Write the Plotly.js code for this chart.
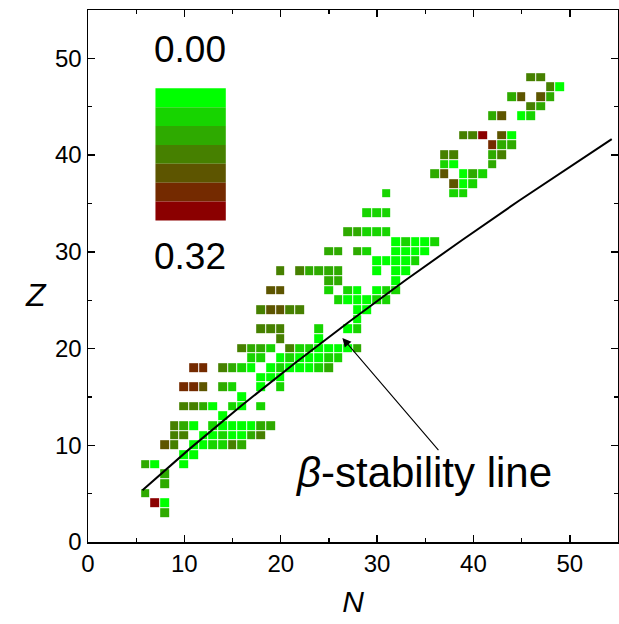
<!DOCTYPE html>
<html><head><meta charset="utf-8">
<script src="https://cdn.plot.ly/plotly-3.0.1.min.js"></script>
<style>html,body{margin:0;padding:0;background:#fff}</style>
</head><body><div id="chart" style="width:619px;height:624px"></div>
<script>
// colour bins from 0.00 (bright green) to 0.32 (dark red)
const binColors = ['#00FF00','#17D400','#2EAA00','#468000','#5D5500','#742A00','#8B0000'];
const legendLabels = ['0.00','0.32'];
const tickVals = [0,10,20,30,40,50];

// nuclides: neutron number N, proton number Z, colour bin (0..6)
const cellN = [
 8,
 7,8,
 6,
 8,
 8,
 6,7,10,
 10,11,
 8,9,11,12,13,14,15,16,
 9,10,12,13,14,15,16,17,18,
 9,10,11,13,14,15,16,17,18,19,
 14,
 10,11,12,13,15,16,18,
 16,
 10,11,12,14,15,18,20,
 18,19,20,
 11,12,14,15,16,17,19,20,21,22,23,24,25,
 17,18,20,21,22,23,24,25,26,
 16,17,18,19,21,22,23,24,25,26,27,28,
 20,24,
 18,19,20,24,27,28,
 28,
 18,19,20,21,22,28,29,
 26,27,28,29,30,31,
 19,20,25,27,28,30,31,32,
 25,26,32,
 20,22,23,24,25,26,30,32,33,
 30,31,32,33,34,
 25,26,28,29,32,33,34,35,
 32,33,34,35,36,
 27,28,29,30,31,
 29,30,31,
 31,38,39,
 38,39,40,
 36,37,39,40,41,
 37,38,42,
 37,38,42,43,
 42,43,44,
 39,40,41,43,44,
 42,43,45,46,
 46,47,
 44,45,47,48,
 48,49,
 46,47
];
const cellZ = [
 3,
 4,4,
 5,
 6,
 7,
 8,8,8,
 9,9,
 10,10,10,10,10,10,10,10,
 11,11,11,11,11,11,11,11,11,
 12,12,12,12,12,12,12,12,12,12,
 13,
 14,14,14,14,14,14,14,
 15,
 16,16,16,16,16,16,16,
 17,17,17,
 18,18,18,18,18,18,18,18,18,18,18,18,18,
 19,19,19,19,19,19,19,19,19,
 20,20,20,20,20,20,20,20,20,20,20,20,
 21,21,
 22,22,22,22,22,22,
 23,
 24,24,24,24,24,24,24,
 25,25,25,25,25,25,
 26,26,26,26,26,26,26,26,
 27,27,27,
 28,28,28,28,28,28,28,28,28,
 29,29,29,29,29,
 30,30,30,30,30,30,30,30,
 31,31,31,31,31,
 32,32,32,32,32,
 34,34,34,
 36,36,36,
 37,37,37,
 38,38,38,38,38,
 39,39,39,
 40,40,40,40,
 41,41,41,
 42,42,42,42,42,
 44,44,44,44,
 45,45,
 46,46,46,46,
 47,47,
 48,48
];
const cellBin = [
 2,
 6,0,
 2,
 2,
 2,
 2,0,0,
 0,0,
 4,3,0,0,1,1,3,2,
 3,3,0,0,1,0,0,2,3,
 3,2,0,1,0,0,0,0,2,2,
 0,
 3,3,2,0,1,0,1,
 0,
 5,5,4,2,1,0,1,
 0,0,0,
 5,5,3,2,1,0,0,1,0,0,0,1,2,
 1,1,0,1,0,0,0,1,1,
 3,2,2,1,3,1,1,0,0,0,0,2,
 3,0,
 3,3,3,1,0,1,
 0,
 3,4,4,3,3,0,0,
 1,0,0,0,1,1,
 4,4,1,1,0,0,1,1,
 2,2,0,
 3,3,2,2,2,2,0,0,0,
 0,0,0,0,1,
 2,2,2,1,0,0,0,0,
 0,1,0,0,1,
 2,2,1,1,1,
 1,1,1,
 1,1,1,
 4,0,1,
 2,4,0,2,1,
 1,0,2,
 3,3,2,3,
 5,2,2,
 3,3,6,4,0,
 2,4,0,1,
 3,2,
 2,4,4,2,
 3,0,
 3,3
];

// beta-stability line, points
const lineN = [5.65, 10.45, 15.91, 21.49, 27.17, 32.94, 38.80, 44.72, 54.35];
const lineZ = [5.35, 9.55, 14.09, 18.51, 22.83, 27.06, 31.20, 35.28, 41.65];

// build heatmap grid
const nMin = 0, nMax = 55, zMin = 0, zMax = 55;
const gx = [], gy = [];
for (let n = nMin; n <= nMax; n++) gx.push(n);
for (let z = zMin; z <= zMax; z++) gy.push(z);
const grid = gy.map(() => gx.map(() => null));
for (let i = 0; i < cellN.length; i++) {
  grid[cellZ[i] - zMin][cellN[i] - nMin] = cellBin[i];
}
const k = binColors.length;
const cs = [];
binColors.forEach((c, i) => { cs.push([i / k, c]); cs.push([(i + 1) / k, c]); });

const FONT = 'Arial, "Liberation Sans", sans-serif';

const traces = [
  {type: 'heatmap', x: gx, y: gy, z: grid, colorscale: cs, zmin: -0.5, zmax: k - 0.5,
   showscale: false, xgap: 1, ygap: 1, hoverongaps: false},
  {type: 'scatter', mode: 'lines', x: lineN, y: lineZ, line: {color: '#000', width: 2}, showlegend: false}
];

// legend colour blocks
const shapes = [];
const lgX0 = 7.0, lgX1 = 14.3, lgTop = 46.9, lgH = 1.95;
binColors.forEach((c, i) => {
  shapes.push({type: 'rect', xref: 'x', yref: 'y', x0: lgX0, x1: lgX1,
    y0: lgTop - (i + 1) * lgH, y1: lgTop - i * lgH, fillcolor: c, line: {width: 0}, layer: 'above'});
});

const annotations = [
  {xref: 'x', yref: 'y', x: 10.6, y: 50.9, text: legendLabels[0], showarrow: false,
   font: {family: FONT, size: 37, color: '#000'}},
  {xref: 'x', yref: 'y', x: 10.6, y: 29.5, text: legendLabels[1], showarrow: false,
   font: {family: FONT, size: 37, color: '#000'}},
  {xref: 'x', yref: 'y', x: 26.4, y: 21.1, axref: 'x', ayref: 'y', ax: 36.5, ay: 9.35,
   text: '', showarrow: true, arrowhead: 2, arrowsize: 1.6, arrowwidth: 1.1, arrowcolor: '#000'},
  {xref: 'x', yref: 'y', x: 34.8, y: 7.2, text: '<i>β</i>-stability line', showarrow: false,
   font: {family: FONT, size: 42, color: '#000'}},
  {xref: 'paper', yref: 'paper', x: -0.098, y: 0.464, xanchor: 'center', yanchor: 'middle',
   text: '<i>Z</i>', showarrow: false, font: {family: FONT, size: 32, color: '#000'}}
];

const axisCommon = {
  range: [0, 55], showline: true, linecolor: '#000', linewidth: 1.5, mirror: 'ticks',
  ticks: 'inside', ticklen: 7, tickwidth: 1.5, tickcolor: '#000',
  tickvals: tickVals, showgrid: false, zeroline: false,
  minor: {dtick: 5, ticks: 'inside', ticklen: 4, tickwidth: 1.2, tickcolor: '#000', showgrid: false},
  tickfont: {family: FONT, size: 24, color: '#000'}
};

const layout = {
  width: 619, height: 624,
  margin: {l: 88, r: 1, t: 10, b: 82},
  paper_bgcolor: '#fff', plot_bgcolor: '#fff',
  showlegend: false,
  xaxis: Object.assign({}, axisCommon, {title: {text: '<i>N</i>', font: {family: FONT, size: 30, color: '#000'}, standoff: 14}}),
  yaxis: Object.assign({}, axisCommon),
  shapes: shapes,
  annotations: annotations
};

Plotly.newPlot('chart', traces, layout, {staticPlot: true, displayModeBar: false});
</script></body></html>
